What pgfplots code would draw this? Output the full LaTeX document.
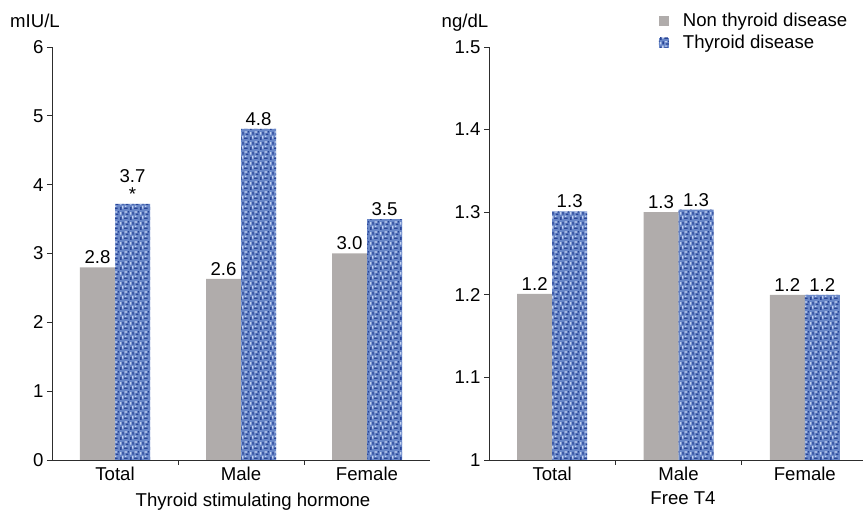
\documentclass[border=0pt]{standalone}
\usepackage{fontspec}
\setmainfont{Liberation Sans}
\usepackage{pgfplots}
\pgfplotsset{compat=1.18}
\usetikzlibrary{patterns}

\pgfdeclarepatternformonly{weavedark}{\pgfpointorigin}{\pgfpoint{10pt}{10pt}}{\pgfpoint{10pt}{10pt}}{%
  \pgfpathrectangle{\pgfpoint{0pt}{0pt}}{\pgfpoint{1.8pt}{3.5pt}}%
  \pgfpathrectangle{\pgfpoint{4.5pt}{1.2pt}}{\pgfpoint{3.8pt}{1.5pt}}%
  \pgfpathrectangle{\pgfpoint{2.5pt}{6pt}}{\pgfpoint{1.5pt}{3pt}}%
  \pgfpathrectangle{\pgfpoint{6.5pt}{5.5pt}}{\pgfpoint{2.8pt}{1.5pt}}%
  \pgfpathrectangle{\pgfpoint{8.5pt}{8.2pt}}{\pgfpoint{1.5pt}{1.5pt}}%
  \pgfusepath{fill}}
\pgfdeclarepatternformonly{weavelight}{\pgfpointorigin}{\pgfpoint{10pt}{10pt}}{\pgfpoint{10pt}{10pt}}{%
  \pgfpathrectangle{\pgfpoint{2.3pt}{1.5pt}}{\pgfpoint{1.5pt}{3pt}}%
  \pgfpathrectangle{\pgfpoint{5.5pt}{3.3pt}}{\pgfpoint{1.5pt}{1.5pt}}%
  \pgfpathrectangle{\pgfpoint{0pt}{6pt}}{\pgfpoint{1.5pt}{2.5pt}}%
  \pgfpathrectangle{\pgfpoint{5pt}{8pt}}{\pgfpoint{2.5pt}{1.4pt}}%
  \pgfusepath{fill}}

\definecolor{bargray}{RGB}{176,172,171}
\definecolor{barblue}{RGB}{105,135,200}
\definecolor{bluedark}{RGB}{40,68,150}
\definecolor{bluelight}{RGB}{195,210,240}
\definecolor{axgray}{RGB}{45,45,45}
\newcommand{\fs}{\fontsize{18.6}{22}\selectfont}
\newcommand{\starlabel}{\vbox{\hsize=40pt\centerline{3.7}\vskip-4pt\centerline{*}}}

\pgfplotsset{
  common/.style={
    scale only axis, height=413pt,
    ybar=0pt, bar width=35pt,
    axis x line=bottom, axis y line=left,
    axis line style={-, axgray, line width=0.8pt},
    xmin=-0.5, xmax=2.5,
    xtick={0.5,1.5}, xticklabels={},
    extra x ticks={0,1,2}, extra x tick labels={Total,Male,Female},
    extra x tick style={major tick length=0pt, tick label style={yshift=-3pt}},
    tick align=outside, major tick length=5pt,
    tick style={axgray, line width=0.8pt},
    /pgf/number format/assume math mode=true,
    tick label style={font=\fs},
    nodes near coords, point meta=explicit symbolic,
    every node near coord/.append style={font=\fs, text=black},
    clip=false,
    legend image code/.code={\draw[#1,draw=none] (0pt,-5pt) rectangle (10pt,5pt);},
  },
  graybar/.style={fill=bargray, draw=none},
  bluebar/.style={fill=barblue, draw=none,
    postaction={pattern=weavedark, pattern color=bluedark},
    postaction={pattern=weavelight, pattern color=bluelight}},
}

\begin{document}
\begin{tikzpicture}[font=\fs]
\useasboundingbox (0,0) rectangle (863pt,510pt);

\begin{axis}[common, at={(52pt,50pt)}, anchor=south west, width=378pt,
  ymin=0, ymax=6, ytick={0,1,...,6}]
\addplot[graybar] coordinates {(0,2.80) [2.8] (1,2.63) [2.6] (2,3.00) [3.0]};
\addplot[bluebar] coordinates {(0,3.72) [\starlabel] (1,4.81) [4.8] (2,3.50) [3.5]};
\end{axis}

\begin{axis}[common, at={(489pt,50pt)}, anchor=south west, width=379pt,
  ymin=1, ymax=1.5, ytick={1,1.1,1.2,1.3,1.4,1.5},
  yticklabel style={/pgf/number format/.cd, fixed, precision=1},
  legend style={at={(rel axis cs:0.44,1.092)}, anchor=north west, draw=none, fill=none,
    font=\fs, legend cell align=left, row sep=3pt,
    /tikz/every odd column/.append style={column sep=12pt}}]
\addplot[graybar] coordinates {(0,1.201) [1.2] (1,1.300) [1.3] (2,1.200) [1.2]};
\addplot[bluebar] coordinates {(0,1.301) [1.3] (1,1.303) [1.3] (2,1.200) [1.2]};
\legend{Non thyroid disease, Thyroid disease}
\end{axis}

\node[anchor=base] at (35pt,482pt) {mIU/L};
\node[anchor=base] at (465pt,482pt) {ng/dL};
\node[anchor=base] at (253pt,3.5pt) {Thyroid stimulating hormone};
\node[anchor=base] at (683pt,5pt) {Free T4};
\end{tikzpicture}
\end{document}
